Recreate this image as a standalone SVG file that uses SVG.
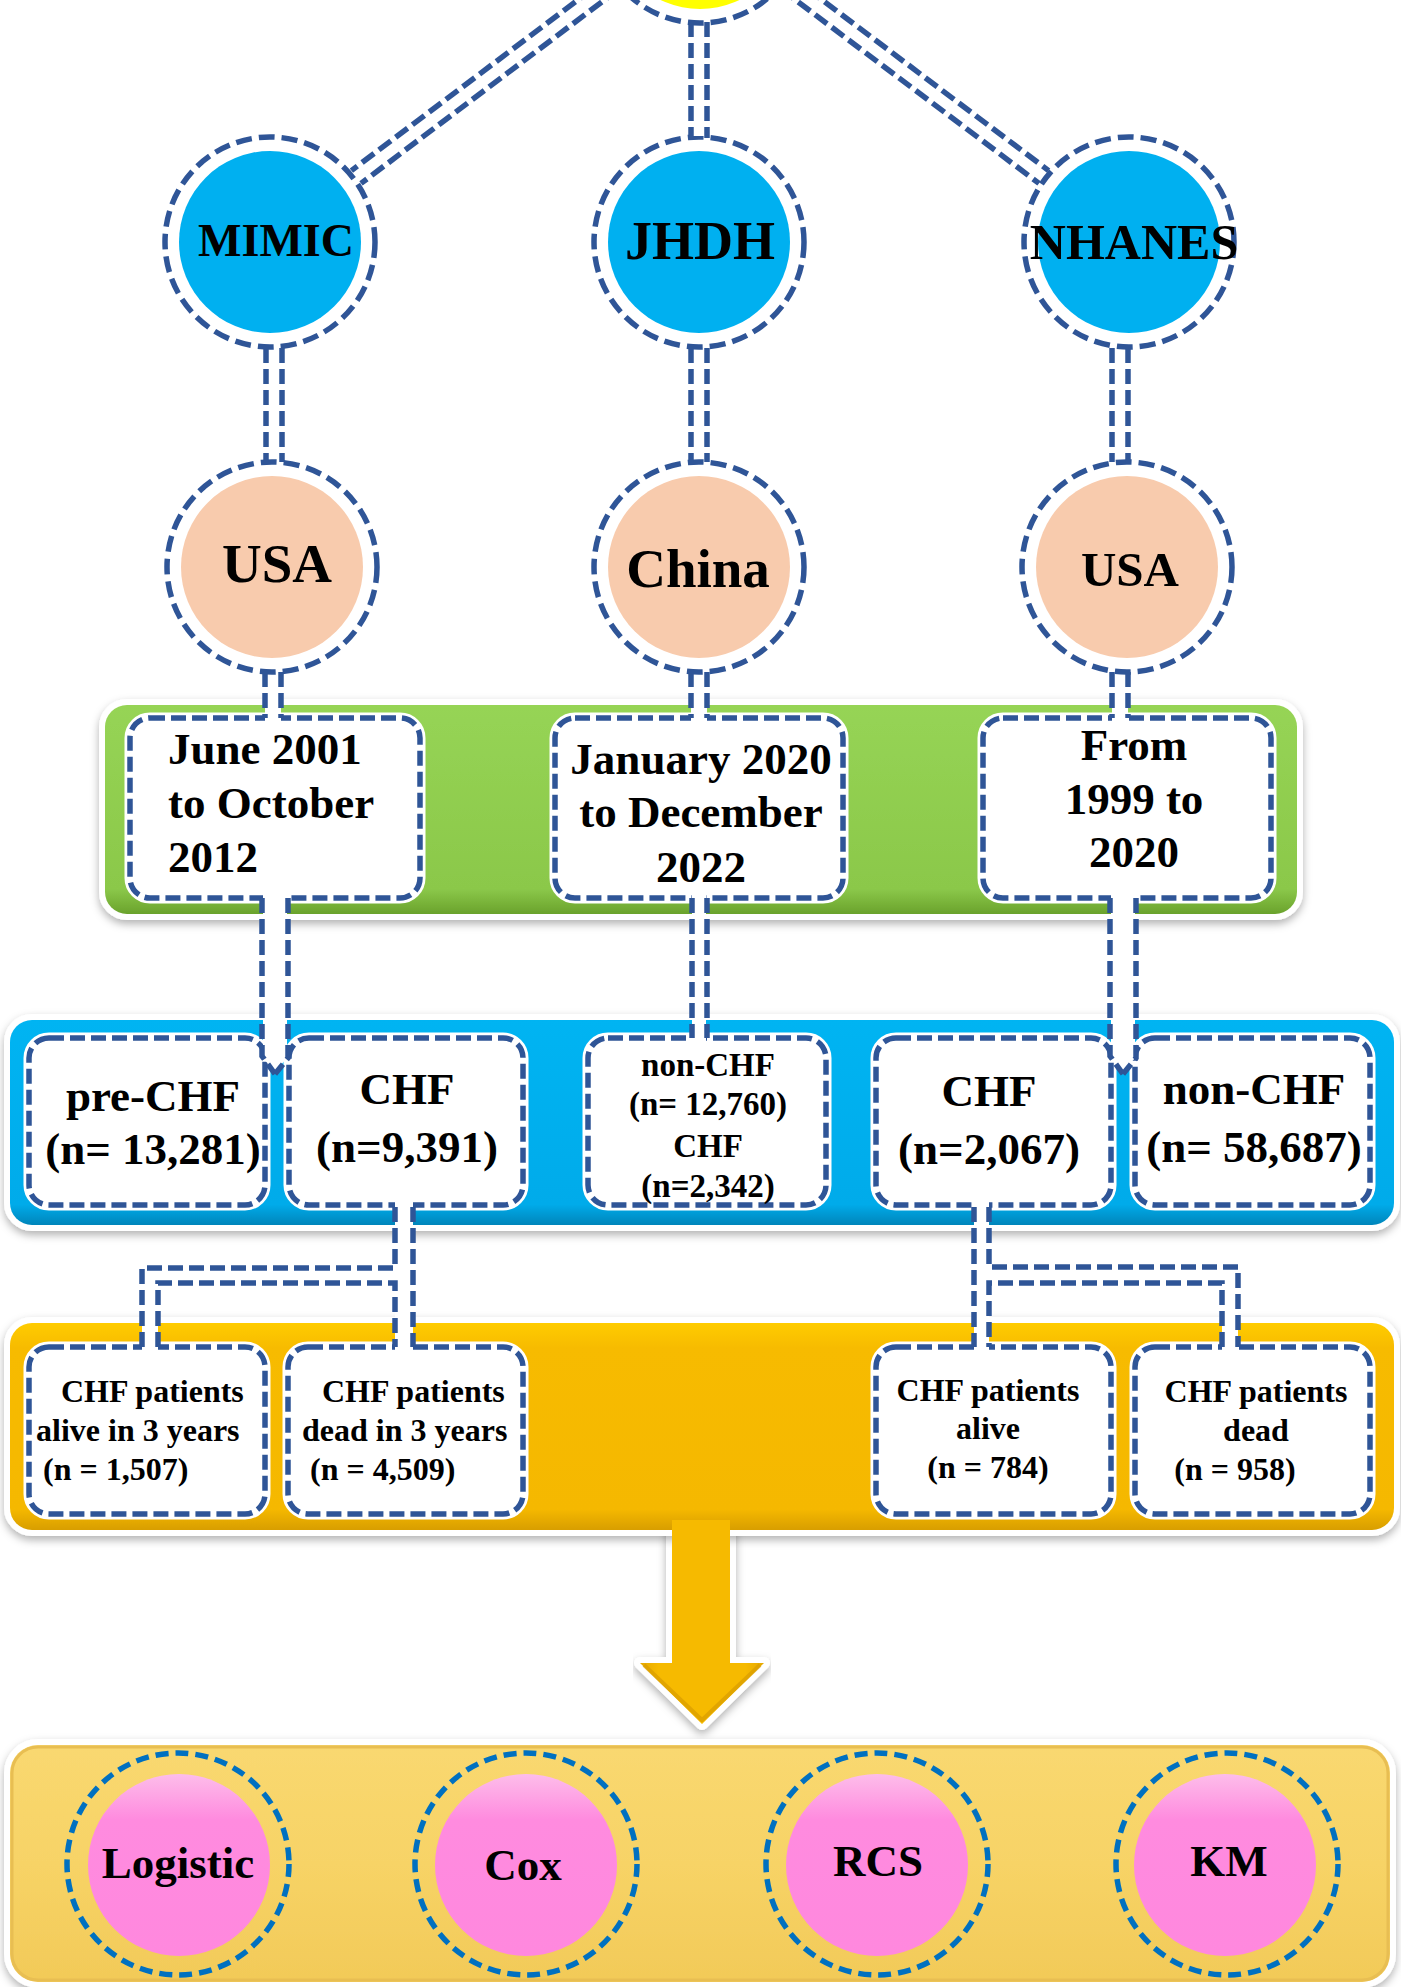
<svg xmlns="http://www.w3.org/2000/svg" width="1401" height="1987" viewBox="0 0 1401 1987">
<defs>
<style>
.t{font-family:"Liberation Serif","Times New Roman",serif;font-weight:bold;fill:#000}
.ringbg{fill:#fff;stroke:#fff;stroke-width:11}
.ring{fill:none;stroke:#2F5597;stroke-width:5.5;stroke-dasharray:16 7}
.boxbg{fill:#fff;stroke:#fff;stroke-width:11}
.box{fill:none;stroke:#2F5597;stroke-width:5.5;stroke-dasharray:15 6}
.conn{fill:none;stroke:#2F5597;stroke-width:5.5;stroke-dasharray:15 6}
.strip{fill:#fff}
.band{stroke:#fff;stroke-width:12;paint-order:stroke}
.mring{fill:none;stroke:#0070C0;stroke-width:5.5;stroke-dasharray:13 7}
</style>
<filter id="sh" x="-5%" y="-10%" width="110%" height="125%">
<feDropShadow dx="0" dy="4" stdDeviation="4" flood-color="#000" flood-opacity="0.3"/>
</filter>
<linearGradient id="gGreen" x1="0" y1="0" x2="0" y2="1">
<stop offset="0" stop-color="#96D455"/><stop offset="0.88" stop-color="#8BC84A"/><stop offset="1" stop-color="#6AA22C"/>
</linearGradient>
<linearGradient id="gBlue" x1="0" y1="0" x2="0" y2="1">
<stop offset="0" stop-color="#00B4F2"/><stop offset="0.9" stop-color="#00ABEA"/><stop offset="1" stop-color="#0085BA"/>
</linearGradient>
<linearGradient id="gYel" x1="0" y1="0" x2="0" y2="1">
<stop offset="0" stop-color="#FFCC00"/><stop offset="0.12" stop-color="#F7BB00"/><stop offset="0.9" stop-color="#F5B800"/><stop offset="1" stop-color="#D89E00"/>
</linearGradient>
<linearGradient id="gLight" x1="0" y1="0" x2="0" y2="1">
<stop offset="0" stop-color="#F9D870"/><stop offset="0.5" stop-color="#F7D366"/><stop offset="1" stop-color="#F2CA58"/>
</linearGradient>
<linearGradient id="gPink" x1="0" y1="0" x2="0" y2="1">
<stop offset="0" stop-color="#FDBDEA"/><stop offset="0.25" stop-color="#FF8BDF"/><stop offset="1" stop-color="#FF88DE"/>
</linearGradient>
<linearGradient id="gArrow" x1="0" y1="0" x2="1" y2="0">
<stop offset="0" stop-color="#E6A800"/><stop offset="0.15" stop-color="#F6BA00"/><stop offset="0.85" stop-color="#F6BA00"/><stop offset="1" stop-color="#E6A800"/>
</linearGradient>
</defs>
<rect width="1401" height="1987" fill="#fff"/>

<g id="top">
<circle cx="700" cy="-82" r="105" class="ringbg"/>
<circle cx="700" cy="-82" r="105" class="ring"/>
<circle cx="700" cy="-82" r="91" fill="#FFFF00"/>
</g>

<g id="mimic">
<circle cx="270" cy="242" r="105" class="ringbg"/>
<circle cx="270" cy="242" r="105" class="ring"/>
<circle cx="270" cy="242" r="91" fill="#00B0F0"/>
<text class="t" x="276" y="256" font-size="46" text-anchor="middle">MIMIC</text>
</g>
<g id="jhdh">
<circle cx="699" cy="242" r="105" class="ringbg"/>
<circle cx="699" cy="242" r="105" class="ring"/>
<circle cx="699" cy="242" r="91" fill="#00B0F0"/>
<text class="t" x="700" y="259" font-size="54" text-anchor="middle">JHDH</text>
</g>
<g id="nhanes">
<circle cx="1129" cy="242" r="105" class="ringbg"/>
<circle cx="1129" cy="242" r="105" class="ring"/>
<circle cx="1129" cy="242" r="91" fill="#00B0F0"/>
<text class="t" x="1134" y="259" font-size="50" text-anchor="middle">NHANES</text>
</g>

<g id="usa1">
<circle cx="272" cy="567" r="105" class="ringbg"/>
<circle cx="272" cy="567" r="105" class="ring"/>
<circle cx="272" cy="567" r="91" fill="#F8CBAD"/>
<text class="t" x="277" y="582" font-size="55" text-anchor="middle">USA</text>
</g>
<g id="china">
<circle cx="699" cy="567" r="105" class="ringbg"/>
<circle cx="699" cy="567" r="105" class="ring"/>
<circle cx="699" cy="567" r="91" fill="#F8CBAD"/>
<text class="t" x="698" y="587" font-size="55" text-anchor="middle">China</text>
</g>
<g id="usa2">
<circle cx="1127" cy="567" r="105" class="ringbg"/>
<circle cx="1127" cy="567" r="105" class="ring"/>
<circle cx="1127" cy="567" r="91" fill="#F8CBAD"/>
<text class="t" x="1130" y="586" font-size="49" text-anchor="middle">USA</text>
</g>

<g id="periods">
<rect x="105" y="705" width="1192" height="209" rx="22" fill="url(#gGreen)" class="band" filter="url(#sh)"/>
<g id="period1">
<rect x="130" y="718" width="290" height="180" rx="20" class="boxbg"/>
<rect x="130" y="718" width="290" height="180" rx="20" class="box"/>
<text class="t" font-size="45"><tspan x="168" y="764">June 2001</tspan><tspan x="168" y="818">to October</tspan><tspan x="168" y="872">2012</tspan></text>
</g>
<g id="period2">
<rect x="555" y="718" width="288" height="180" rx="20" class="boxbg"/>
<rect x="555" y="718" width="288" height="180" rx="20" class="box"/>
<text class="t" font-size="45" text-anchor="middle"><tspan x="701" y="774">January 2020</tspan><tspan x="701" y="827">to December</tspan><tspan x="701" y="882">2022</tspan></text>
</g>
<g id="period3">
<rect x="983" y="718" width="288" height="180" rx="20" class="boxbg"/>
<rect x="983" y="718" width="288" height="180" rx="20" class="box"/>
<text class="t" font-size="45" text-anchor="middle"><tspan x="1134" y="760">From</tspan><tspan x="1134" y="814">1999 to</tspan><tspan x="1134" y="867">2020</tspan></text>
</g>
</g>

<g id="cohorts">
<rect x="10" y="1020" width="1384" height="205" rx="22" fill="url(#gBlue)" class="band" filter="url(#sh)"/>
<g id="prechf">
<rect x="29" y="1038" width="236" height="167" rx="20" class="boxbg"/>
<rect x="29" y="1038" width="236" height="167" rx="20" class="box"/>
<text class="t" font-size="45" text-anchor="middle"><tspan x="153" y="1111">pre-CHF</tspan><tspan x="153" y="1164">(n= 13,281)</tspan></text>
</g>
<g id="chf1">
<rect x="289" y="1038" width="234" height="167" rx="20" class="boxbg"/>
<rect x="289" y="1038" width="234" height="167" rx="20" class="box"/>
<text class="t" font-size="45" text-anchor="middle"><tspan x="407" y="1104">CHF</tspan><tspan x="407" y="1162">(n=9,391)</tspan></text>
</g>
<g id="jhdhcohort">
<rect x="588" y="1038" width="238" height="167" rx="20" class="boxbg"/>
<rect x="588" y="1038" width="238" height="167" rx="20" class="box"/>
<text class="t" font-size="33" text-anchor="middle"><tspan x="708" y="1076">non-CHF</tspan><tspan x="708" y="1115">(n= 12,760)</tspan><tspan x="708" y="1157">CHF</tspan><tspan x="708" y="1197">(n=2,342)</tspan></text>
</g>
<g id="chf2">
<rect x="876" y="1038" width="235" height="167" rx="20" class="boxbg"/>
<rect x="876" y="1038" width="235" height="167" rx="20" class="box"/>
<text class="t" font-size="45" text-anchor="middle"><tspan x="989" y="1106">CHF</tspan><tspan x="989" y="1164">(n=2,067)</tspan></text>
</g>
<g id="nonchf">
<rect x="1135" y="1038" width="235" height="167" rx="20" class="boxbg"/>
<rect x="1135" y="1038" width="235" height="167" rx="20" class="box"/>
<text class="t" font-size="45" text-anchor="middle"><tspan x="1254" y="1104">non-CHF</tspan><tspan x="1254" y="1162">(n= 58,687)</tspan></text>
</g>
</g>

<polygon points="672,1515 730,1515 730,1663 764,1663 702,1724 640,1663 672,1663" fill="url(#gArrow)" stroke="#fff" stroke-width="12" stroke-linejoin="round" filter="url(#sh)"/>

<g id="outcomes">
<rect x="10" y="1323" width="1384" height="207" rx="22" fill="url(#gYel)" class="band" filter="url(#sh)"/>
<g id="alive1">
<rect x="29" y="1347" width="236" height="167" rx="20" class="boxbg"/>
<rect x="29" y="1347" width="236" height="167" rx="20" class="box"/>
<text class="t" font-size="32"><tspan x="61" y="1402">CHF patients</tspan><tspan x="36" y="1441">alive in 3 years</tspan><tspan x="43" y="1480">(n = 1,507)</tspan></text>
</g>
<g id="dead1">
<rect x="288" y="1347" width="235" height="167" rx="20" class="boxbg"/>
<rect x="288" y="1347" width="235" height="167" rx="20" class="box"/>
<text class="t" font-size="32"><tspan x="322" y="1402">CHF patients</tspan><tspan x="302" y="1441">dead in 3 years</tspan><tspan x="310" y="1480">(n = 4,509)</tspan></text>
</g>
<g id="alive2">
<rect x="876" y="1347" width="235" height="167" rx="20" class="boxbg"/>
<rect x="876" y="1347" width="235" height="167" rx="20" class="box"/>
<text class="t" font-size="32" text-anchor="middle"><tspan x="988" y="1401">CHF patients</tspan><tspan x="988" y="1439">alive</tspan><tspan x="988" y="1478">(n = 784)</tspan></text>
</g>
<g id="dead2">
<rect x="1135" y="1347" width="235" height="167" rx="20" class="boxbg"/>
<rect x="1135" y="1347" width="235" height="167" rx="20" class="box"/>
<text class="t" font-size="32" text-anchor="middle"><tspan x="1256" y="1402">CHF patients</tspan><tspan x="1256" y="1441">dead</tspan><tspan x="1235" y="1480">(n = 958)</tspan></text>
</g>
</g>

<g id="bigarrow">
<polygon points="672,1520 730,1520 730,1663 764,1663 702,1724 640,1663 672,1663" fill="url(#gArrow)"/>
<polyline points="644,1665 702,1720 760,1665" fill="none" stroke="#D99C00" stroke-width="4" stroke-linejoin="round" opacity="0.7"/>
</g>

<g id="methods">
<rect x="10" y="1745" width="1380" height="237" rx="28" fill="url(#gLight)" class="band" filter="url(#sh)"/>
<rect x="12" y="1747" width="1376" height="233" rx="26" fill="none" stroke="#E8BE52" stroke-width="3"/>
<g id="logistic">
<circle cx="178" cy="1864" r="111" class="mring"/>
<circle cx="179" cy="1865" r="91" fill="url(#gPink)"/>
<text class="t" x="178" y="1878" font-size="45" text-anchor="middle">Logistic</text>
</g>
<g id="cox">
<circle cx="526" cy="1864" r="111" class="mring"/>
<circle cx="526" cy="1865" r="91" fill="url(#gPink)"/>
<text class="t" x="523" y="1880" font-size="45" text-anchor="middle">Cox</text>
</g>
<g id="rcs">
<circle cx="877" cy="1864" r="111" class="mring"/>
<circle cx="877" cy="1865" r="91" fill="url(#gPink)"/>
<text class="t" x="878" y="1876" font-size="45" text-anchor="middle">RCS</text>
</g>
<g id="km">
<circle cx="1227" cy="1864" r="111" class="mring"/>
<circle cx="1225" cy="1865" r="91" fill="url(#gPink)"/>
<text class="t" x="1229" y="1876" font-size="45" text-anchor="middle">KM</text>
</g>
</g>

<g id="connectors">
<line class="conn" x1="618.5" y1="-10.6" x2="361" y2="183.4"/>
<line class="conn" x1="608.9" y1="-23.4" x2="351.4" y2="170.6"/>
<line class="conn" x1="791.1" y1="-23.4" x2="1048.6" y2="170.6"/>
<line class="conn" x1="781.5" y1="-10.6" x2="1039" y2="183.4"/>
<rect class="strip" x="691" y="26" width="16" height="110"/>
<line class="conn" x1="691" y1="22" x2="691" y2="138"/>
<line class="conn" x1="707" y1="22" x2="707" y2="138"/>
<rect class="strip" x="266" y="352" width="16" height="106"/>
<line class="conn" x1="266" y1="348" x2="266" y2="462"/>
<line class="conn" x1="282" y1="348" x2="282" y2="462"/>
<rect class="strip" x="691" y="352" width="16" height="106"/>
<line class="conn" x1="691" y1="348" x2="691" y2="462"/>
<line class="conn" x1="707" y1="348" x2="707" y2="462"/>
<rect class="strip" x="1112" y="352" width="16" height="106"/>
<line class="conn" x1="1112" y1="348" x2="1112" y2="462"/>
<line class="conn" x1="1128" y1="348" x2="1128" y2="462"/>
<rect class="strip" x="265" y="676" width="16" height="46"/>
<line class="conn" x1="265" y1="672" x2="265" y2="718"/>
<line class="conn" x1="281" y1="672" x2="281" y2="718"/>
<rect class="strip" x="691" y="676" width="16" height="46"/>
<line class="conn" x1="691" y1="672" x2="691" y2="718"/>
<line class="conn" x1="707" y1="672" x2="707" y2="718"/>
<rect class="strip" x="1112" y="676" width="16" height="46"/>
<line class="conn" x1="1112" y1="672" x2="1112" y2="718"/>
<line class="conn" x1="1128" y1="672" x2="1128" y2="718"/>
<polygon class="strip" points="263,894 287,894 287,1058 275,1072 263,1058"/>
<polyline class="conn" points="262,898 262,1056 275,1074"/>
<polyline class="conn" points="288,898 288,1058 275,1074"/>
<rect class="strip" x="692" y="894" width="14" height="148"/>
<line class="conn" x1="692" y1="898" x2="692" y2="1038"/>
<line class="conn" x1="707" y1="898" x2="707" y2="1038"/>
<polygon class="strip" points="1111,894 1135,894 1135,1058 1123,1072 1111,1058"/>
<polyline class="conn" points="1110,898 1110,1056 1123,1074"/>
<polyline class="conn" points="1136,898 1136,1058 1123,1074"/>
<polygon class="strip" points="395,1201 413,1201 413,1351 395,1351 395,1283 158,1283 158,1351 142,1351 142,1268 395,1268"/>
<path class="conn" d="M413,1207 V1347"/>
<path class="conn" d="M395,1207 V1268 H142 V1347"/>
<path class="conn" d="M158,1347 V1283 H395 V1347"/>
<polygon class="strip" points="974,1201 989,1201 989,1267 1238,1267 1238,1351 1222,1351 1222,1283 989,1283 989,1351 974,1351"/>
<path class="conn" d="M974,1207 V1347"/>
<path class="conn" d="M989,1207 V1267 H1238 V1347"/>
<path class="conn" d="M1222,1347 V1283 H989 V1347"/>
</g>
</svg>
